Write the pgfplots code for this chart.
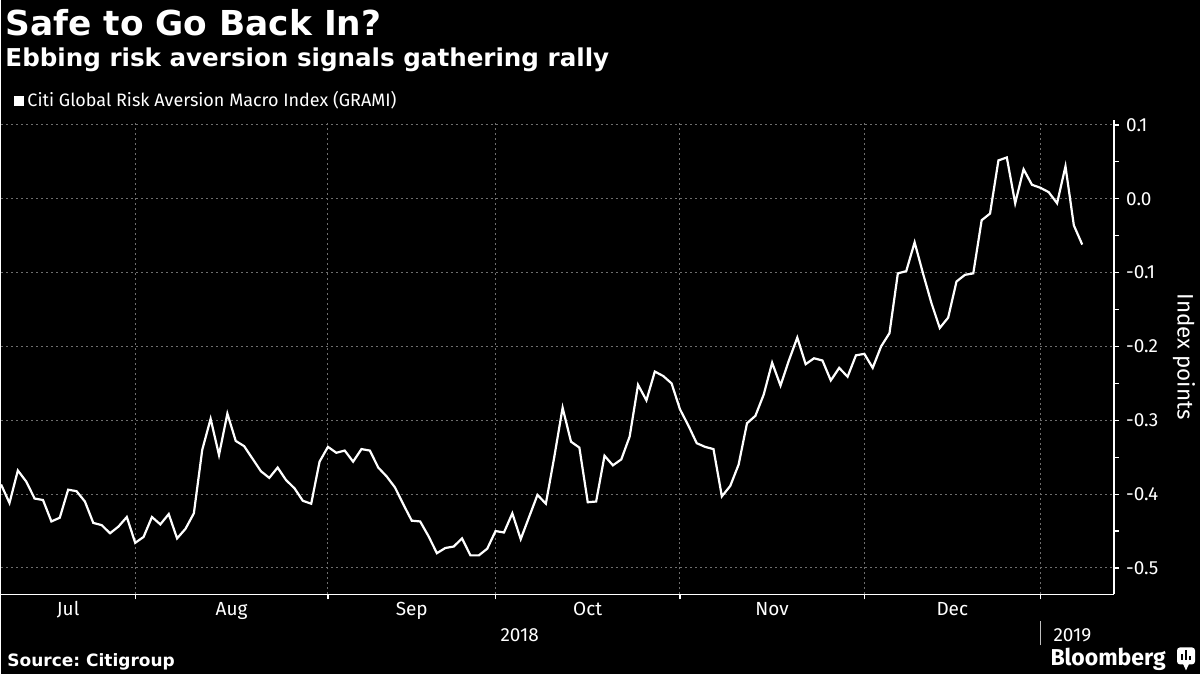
\documentclass[border=0pt]{standalone}
\usepackage{pgfplots}
\pgfplotsset{compat=1.18}
\usepackage{fontspec}
\setmainfont{Fira Sans}
\newfontfamily\titlefont{DejaVu Sans}
\definecolor{gridgray}{RGB}{110,110,110}
\begin{document}
\begin{tikzpicture}[x=0.5pt,y=0.5pt]
\fill[black] (0,0) rectangle (1200,675);
\begin{axis}[
  at={(0pt,40pt)}, anchor=south west,
  scale only axis, width=557pt, height=237.5pt,
  xmin=0, xmax=132.8, ymin=-0.5359, ymax=0.1069,
  axis x line*=bottom, axis y line*=right,
  axis line style={white, line width=0.8pt},
  xtick={16,39,59,81,103,124},
  xticklabels={,,,,,},
  extra x ticks={8,27.5,49,70,92,113.5},
  extra x tick labels={Jul,Aug,Sep,Oct,Nov,Dec},
  extra x tick style={grid=none, major tick length=0pt,
     xticklabel style={anchor=base, yshift=-10.5pt}},
  ytick={-0.5,-0.4,-0.3,-0.2,-0.1,0,0.1},
  yticklabels={-0.5,-0.4,-0.3,-0.2,-0.1,0.0,0.1},
  yticklabel style={anchor=west, xshift=0pt},
  minor y tick num=1,
  grid=major,
  major grid style={gridgray, line width=0.5pt, dash pattern=on 1pt off 1.5pt},
  tick align=outside,
  major tick length=2.5pt, minor tick length=2.5pt,
  tick style={white, line width=0.6pt},
  ticklabel style={text=white, font=\fontsize{9.5}{11}\selectfont},
  clip=false,
]
\addplot[white, line width=1.1pt] coordinates {
(0,-0.387) (1,-0.412) (2,-0.368) (3,-0.383) (4,-0.406) (5,-0.408)
(6,-0.437) (7,-0.432) (8,-0.394) (9,-0.396) (10,-0.410) (11,-0.439)
(12,-0.442) (13,-0.453) (14,-0.444) (15,-0.431) (16,-0.466) (17,-0.458)
(18,-0.431) (19,-0.441) (20,-0.427) (21,-0.460) (22,-0.447) (23,-0.426)
(24,-0.340) (25,-0.298) (26,-0.347) (27,-0.291) (28,-0.328) (29,-0.335)
(30,-0.352) (31,-0.369) (32,-0.378) (33,-0.364) (34,-0.381) (35,-0.392)
(36,-0.409) (37,-0.413) (38,-0.356) (39,-0.336) (40,-0.344) (41,-0.341)
(42,-0.356) (43,-0.339) (44,-0.341) (45,-0.364) (46,-0.376) (47,-0.391)
(48,-0.414) (49,-0.436) (50,-0.437) (51,-0.457) (52,-0.480) (53,-0.473)
(54,-0.471) (55,-0.460) (56,-0.483) (57,-0.483) (58,-0.474) (59,-0.450)
(60,-0.452) (61,-0.426) (62,-0.461) (63,-0.431) (64,-0.401) (65,-0.413)
(66,-0.350) (67,-0.283) (68,-0.329) (69,-0.337) (70,-0.411) (71,-0.410)
(72,-0.348) (73,-0.361) (74,-0.353) (75,-0.322) (76,-0.252) (77,-0.273)
(78,-0.234) (79,-0.240) (80,-0.250) (81,-0.285) (82,-0.307) (83,-0.331)
(84,-0.336) (85,-0.339) (86,-0.403) (87,-0.389) (88,-0.360) (89,-0.304)
(90,-0.294) (91,-0.265) (92,-0.222) (93,-0.253) (94,-0.219) (95,-0.188)
(96,-0.224) (97,-0.216) (98,-0.219) (99,-0.246) (100,-0.229) (101,-0.241)
(102,-0.212) (103,-0.210) (104,-0.229) (105,-0.200) (106,-0.182) (107,-0.101)
(108,-0.098) (109,-0.059) (110,-0.101) (111,-0.141) (112,-0.175) (113,-0.161)
(114,-0.112) (115,-0.103) (116,-0.101) (117,-0.029) (118,-0.020) (119,0.052)
(120,0.056) (121,-0.006) (122,0.040) (123,0.019) (124,0.015) (125,0.009)
(126,-0.006) (127,0.044) (128,-0.036) (129,-0.062)
};
\end{axis}
% titles
\node[anchor=base west, inner sep=0, text=white, font=\titlefont\fontsize{17.2}{19}\selectfont\bfseries] at (4,639) {Safe to Go Back In?};
\node[anchor=base west, inner sep=0, text=white, font=\titlefont\fontsize{12.3}{14}\selectfont\bfseries] at (4,608) {Ebbing risk aversion signals gathering rally};
\fill[white] (13,569) rectangle (23,579);
\node[anchor=base west, inner sep=0, text=white, font=\fontsize{9}{11}\selectfont] at (26,568) {Citi Global Risk Aversion Macro Index (GRAMI)};
% axis title
\node[rotate=-90, inner sep=0, text=white, font=\fontsize{11.2}{13}\selectfont] at (1184,318) {Index points};
% years
\node[anchor=base, inner sep=0, text=white, font=\fontsize{9.5}{11}\selectfont] at (519,33) {2018};
\node[anchor=base west, inner sep=0, text=white, font=\fontsize{9.5}{11}\selectfont] at (1053,33) {2019};
\draw[white!75!black, line width=0.5pt] (1040.7,29) -- (1040.7,53);
% footer
\node[anchor=base west, inner sep=0, text=white, font=\titlefont\fontsize{8.5}{10}\selectfont\bfseries] at (6,8) {Source:\ Citigroup};
\node[anchor=base west, inner sep=0, text=white, font=\fontsize{11.5}{13}\selectfont\bfseries] at (1050,9) {Bloomberg};
\fill[white, rounded corners=1.5pt] (1177,10) rectangle (1195,27);
\fill[white] (1183,10.5) -- (1186,4) -- (1189,10.5) -- cycle;
\fill[black] (1181,14) rectangle (1183,20);
\fill[black] (1185,14) rectangle (1187,24);
\fill[black] (1189,14) rectangle (1191,18);
\end{tikzpicture}
\end{document}
